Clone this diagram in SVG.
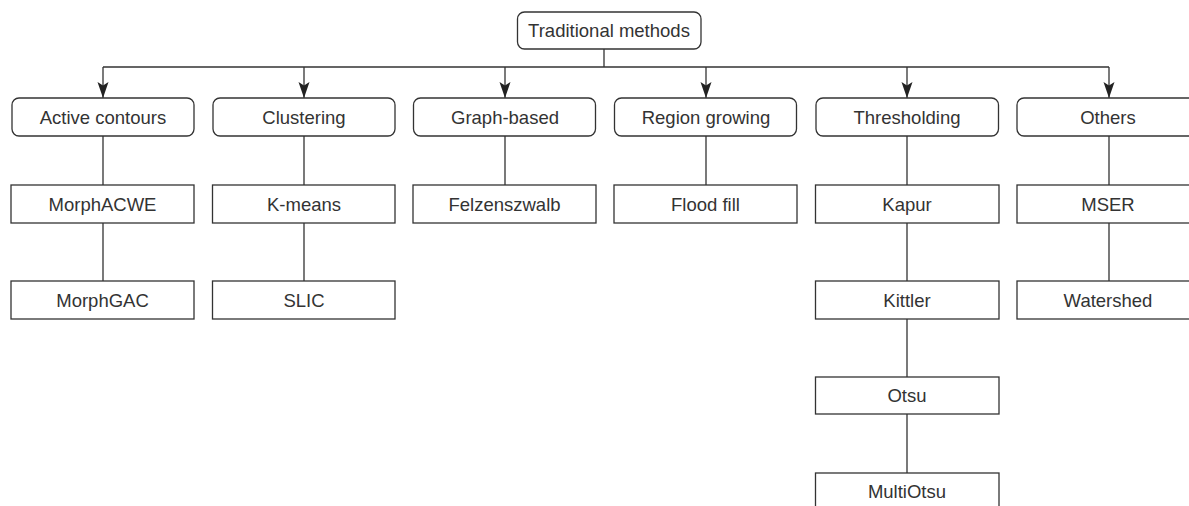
<svg xmlns="http://www.w3.org/2000/svg" width="1189" height="506" viewBox="0 0 1189 506">
<style>
.box{fill:#fff;stroke:#333;stroke-width:1.3}
.lbl{font-family:"Liberation Sans",Arial,sans-serif;font-size:18.5px;fill:#333;text-anchor:middle}
.ln{stroke:#333;stroke-width:1.3;fill:none}
</style>
<defs>
<marker id="ah" viewBox="0 -6 16 12" markerWidth="16" markerHeight="12" refX="16" refY="0" orient="auto" markerUnits="userSpaceOnUse">
<path d="M0,-5.5 L16,0 L0,5.5 L3.5,0 Z" fill="#222"/>
</marker>
</defs>
<rect width="1189" height="506" fill="#fff"/>
<g id="connectors">
<path class="ln" d="M604,49 V67 M103,67 H1109"/>
<path class="ln" d="M103,67 V98" marker-end="url(#ah)"/>
<path class="ln" d="M304,67 V98" marker-end="url(#ah)"/>
<path class="ln" d="M505,67 V98" marker-end="url(#ah)"/>
<path class="ln" d="M706,67 V98" marker-end="url(#ah)"/>
<path class="ln" d="M907,67 V98" marker-end="url(#ah)"/>
<path class="ln" d="M1109,67 V98" marker-end="url(#ah)"/>
<path class="ln" d="M103,136 V185 M103,223 V281 M304,136 V185 M304,223 V281 M505,136 V185 M706,136 V185 M907,136 V185 M907,223 V281 M907,319 V377 M907,414 V473 M1109,136 V185 M1109,223 V281"/>
</g>
<g id="root"><rect class="box" x="517.5" y="12" width="183.5" height="37" rx="7"/><text class="lbl" x="609" y="37">Traditional methods</text></g>
<g id="active"><rect class="box" x="12" y="98" width="182" height="38" rx="7"/><text class="lbl" x="103" y="123.5">Active contours</text></g>
<g id="clustering"><rect class="box" x="213" y="98" width="182" height="38" rx="7"/><text class="lbl" x="304" y="123.5">Clustering</text></g>
<g id="graph"><rect class="box" x="413.5" y="98" width="182" height="38" rx="7"/><text class="lbl" x="505" y="123.5">Graph-based</text></g>
<g id="region"><rect class="box" x="614.5" y="98" width="182" height="38" rx="7"/><text class="lbl" x="706" y="123.5">Region growing</text></g>
<g id="thresholding"><rect class="box" x="816" y="98" width="182.5" height="38" rx="7"/><text class="lbl" x="907" y="123.5">Thresholding</text></g>
<g id="others"><rect class="box" x="1017" y="98" width="183" height="38" rx="7"/><text class="lbl" x="1108" y="123.5">Others</text></g>
<g id="morphacwe"><rect class="box" x="11" y="185" width="183" height="38"/><text class="lbl" x="102.5" y="210.5">MorphACWE</text></g>
<g id="kmeans"><rect class="box" x="212.5" y="185" width="182.5" height="38"/><text class="lbl" x="304" y="210.5">K-means</text></g>
<g id="felzenszwalb"><rect class="box" x="413" y="185" width="183" height="38"/><text class="lbl" x="504.5" y="210.5">Felzenszwalb</text></g>
<g id="floodfill"><rect class="box" x="614" y="185" width="183" height="38"/><text class="lbl" x="705.5" y="210.5">Flood fill</text></g>
<g id="kapur"><rect class="box" x="815.5" y="185" width="183.5" height="38"/><text class="lbl" x="907" y="210.5">Kapur</text></g>
<g id="mser"><rect class="box" x="1017" y="185" width="183" height="38"/><text class="lbl" x="1108" y="210.5">MSER</text></g>
<g id="morphgac"><rect class="box" x="11" y="281" width="183" height="38"/><text class="lbl" x="102.5" y="306.5">MorphGAC</text></g>
<g id="slic"><rect class="box" x="212.5" y="281" width="182.5" height="38"/><text class="lbl" x="304" y="306.5">SLIC</text></g>
<g id="kittler"><rect class="box" x="815.5" y="281" width="183.5" height="38"/><text class="lbl" x="907" y="306.5">Kittler</text></g>
<g id="watershed"><rect class="box" x="1017" y="281" width="183" height="38"/><text class="lbl" x="1108" y="306.5">Watershed</text></g>
<g id="otsu"><rect class="box" x="815.5" y="377" width="183.5" height="37"/><text class="lbl" x="907" y="402">Otsu</text></g>
<g id="multiotsu"><rect class="box" x="815.5" y="473" width="183.5" height="38"/><text class="lbl" x="907" y="498">MultiOtsu</text></g>
</svg>
